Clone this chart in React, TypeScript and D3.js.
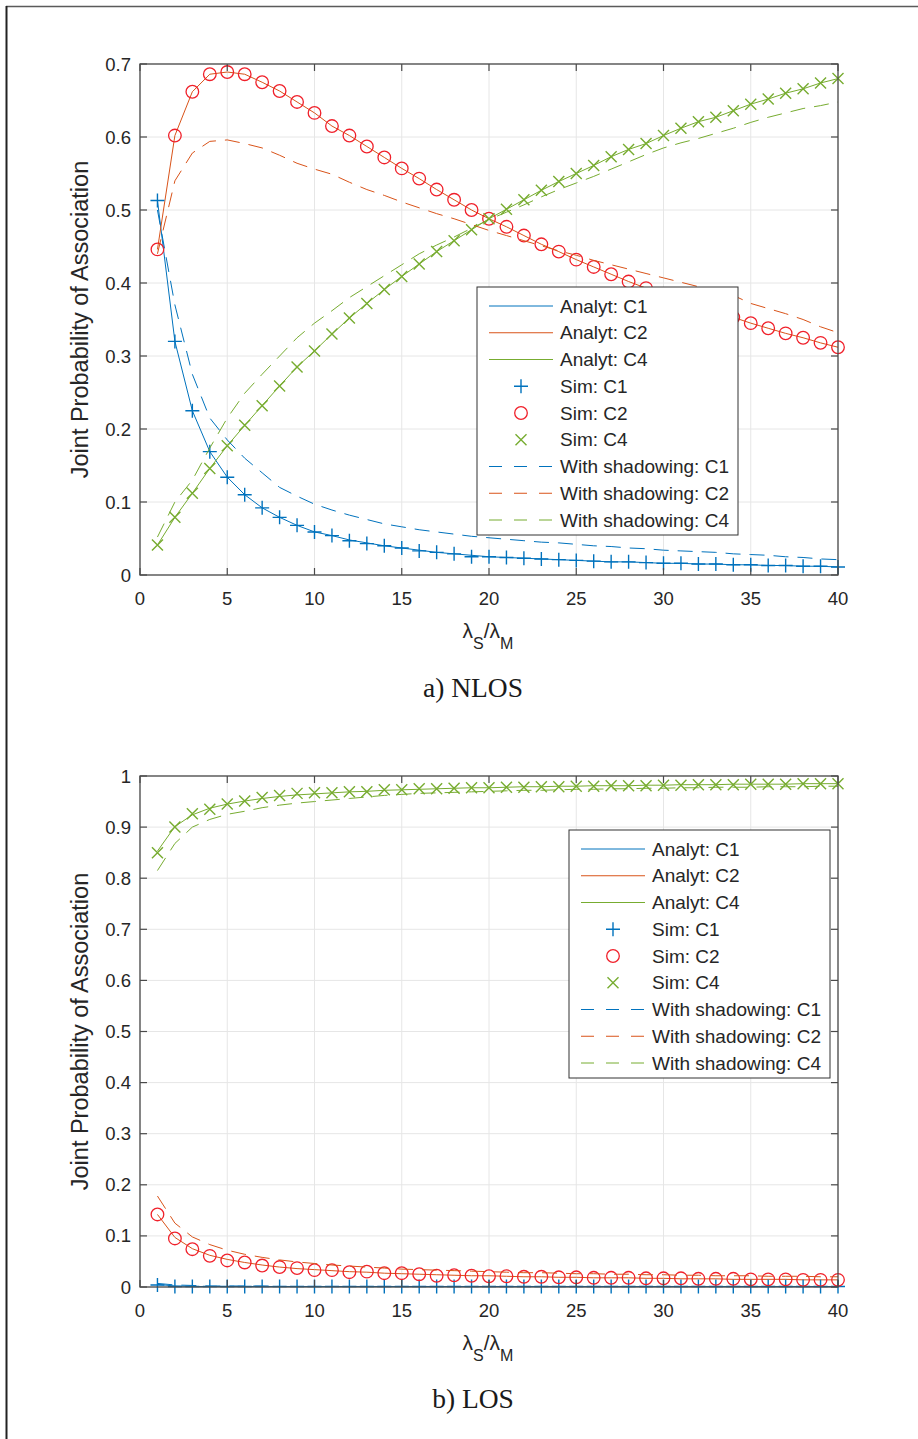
import React from "react";
import * as d3 from "d3";

// ---------- data ----------
const lambdaRatio = [1,2,3,4,5,6,7,8,9,10,11,12,13,14,15,16,17,18,19,20,21,22,23,24,25,26,27,28,29,30,31,32,33,34,35,36,37,38,39,40];
const xTicks = [0,5,10,15,20,25,30,35,40];
const nlosYTicks = [0,0.1,0.2,0.3,0.4,0.5,0.6,0.7];
const losYTicks = [0,0.1,0.2,0.3,0.4,0.5,0.6,0.7,0.8,0.9,1];

// NLOS
const nlosAnalytC1 = [0.513,0.320,0.225,0.169,0.134,0.110,0.092,0.079,0.068,0.059,0.054,0.048,0.044,0.040,0.037,0.034,0.031,0.029,0.027,0.025,0.024,0.023,0.022,0.021,0.020,0.019,0.018,0.018,0.017,0.016,0.016,0.015,0.015,0.014,0.014,0.013,0.013,0.012,0.012,0.011];
const nlosAnalytC2 = [0.446,0.602,0.662,0.686,0.689,0.686,0.675,0.663,0.648,0.633,0.615,0.602,0.587,0.572,0.557,0.543,0.528,0.514,0.500,0.488,0.477,0.465,0.453,0.443,0.432,0.422,0.412,0.402,0.393,0.385,0.377,0.369,0.361,0.353,0.345,0.338,0.331,0.325,0.318,0.312];
const nlosAnalytC4 = [0.041,0.079,0.112,0.146,0.177,0.205,0.232,0.259,0.285,0.307,0.330,0.352,0.372,0.391,0.409,0.426,0.443,0.458,0.473,0.488,0.501,0.514,0.527,0.539,0.550,0.561,0.573,0.583,0.591,0.602,0.612,0.621,0.627,0.636,0.645,0.652,0.660,0.666,0.674,0.680];
const nlosSimC1 = [0.513,0.320,0.225,0.169,0.134,0.110,0.092,0.079,0.068,0.059,0.054,0.047,0.043,0.040,0.037,0.033,0.031,0.029,0.025,0.025,0.024,0.023,0.022,0.021,0.020,0.019,0.018,0.018,0.017,0.016,0.016,0.015,0.015,0.014,0.014,0.013,0.013,0.012,0.012,0.011];
const nlosSimC2 = [0.446,0.602,0.662,0.686,0.689,0.686,0.675,0.663,0.648,0.633,0.615,0.602,0.587,0.572,0.557,0.543,0.528,0.514,0.500,0.488,0.477,0.465,0.453,0.443,0.432,0.422,0.412,0.402,0.393,0.385,0.377,0.369,0.361,0.353,0.345,0.338,0.331,0.325,0.318,0.312];
const nlosSimC4 = [0.041,0.079,0.112,0.146,0.177,0.205,0.232,0.259,0.285,0.307,0.330,0.352,0.372,0.391,0.409,0.426,0.443,0.458,0.473,0.488,0.501,0.514,0.527,0.539,0.550,0.561,0.573,0.583,0.591,0.602,0.612,0.621,0.627,0.636,0.645,0.652,0.660,0.666,0.674,0.680];
const nlosShadowC1 = [0.500,0.370,0.275,0.215,0.185,0.160,0.140,0.120,0.108,0.097,0.089,0.082,0.076,0.070,0.066,0.062,0.059,0.056,0.053,0.051,0.049,0.047,0.045,0.044,0.042,0.040,0.039,0.037,0.036,0.034,0.033,0.032,0.031,0.029,0.028,0.027,0.025,0.024,0.022,0.021];
const nlosShadowC2 = [0.440,0.540,0.578,0.594,0.596,0.591,0.585,0.575,0.564,0.556,0.549,0.538,0.528,0.520,0.511,0.503,0.495,0.488,0.480,0.472,0.465,0.458,0.451,0.444,0.438,0.431,0.425,0.419,0.413,0.407,0.401,0.395,0.389,0.383,0.372,0.365,0.358,0.350,0.340,0.332];
const nlosShadowC4 = [0.052,0.100,0.130,0.174,0.215,0.249,0.275,0.300,0.325,0.345,0.362,0.380,0.395,0.410,0.425,0.440,0.452,0.463,0.475,0.487,0.497,0.507,0.518,0.528,0.537,0.546,0.556,0.566,0.576,0.585,0.592,0.598,0.605,0.612,0.620,0.627,0.633,0.639,0.643,0.648];

// LOS
const losAnalytC1 = [0.005,0.002,0.001,0.001,0.001,0.001,0.001,0.001,0.001,0.001,0.001,0.001,0.001,0.001,0.001,0.001,0.001,0.001,0.001,0.001,0.001,0.001,0.001,0.001,0.001,0.001,0.001,0.001,0.001,0.001,0.001,0.001,0.001,0.001,0.001,0.001,0.001,0.001,0.001,0.001];
const losAnalytC2 = [0.142,0.097,0.075,0.062,0.054,0.048,0.043,0.039,0.036,0.034,0.032,0.030,0.029,0.027,0.026,0.025,0.024,0.023,0.022,0.022,0.021,0.020,0.020,0.019,0.019,0.018,0.018,0.018,0.017,0.017,0.016,0.016,0.016,0.015,0.015,0.015,0.015,0.014,0.014,0.014];
const losAnalytC4 = [0.853,0.901,0.924,0.937,0.945,0.951,0.956,0.960,0.963,0.965,0.967,0.969,0.970,0.972,0.973,0.974,0.975,0.976,0.977,0.977,0.978,0.979,0.979,0.980,0.980,0.981,0.981,0.981,0.982,0.982,0.983,0.983,0.983,0.984,0.984,0.984,0.984,0.985,0.985,0.985];
const losSimC1 = [0.004,0.001,0.001,0.001,0.001,0.001,0.001,0.001,0.001,0.001,0.001,0.001,0.001,0.001,0.001,0.001,0.001,0.001,0.001,0.001,0.001,0.001,0.001,0.001,0.001,0.001,0.001,0.001,0.001,0.001,0.001,0.001,0.001,0.001,0.001,0.001,0.001,0.001,0.001,0.001];
const losSimC2 = [0.142,0.095,0.074,0.061,0.052,0.048,0.042,0.039,0.037,0.033,0.033,0.029,0.030,0.027,0.027,0.025,0.022,0.023,0.022,0.021,0.021,0.020,0.020,0.019,0.019,0.018,0.018,0.018,0.017,0.017,0.017,0.016,0.016,0.016,0.015,0.015,0.015,0.014,0.014,0.014];
const losSimC4 = [0.850,0.900,0.926,0.935,0.945,0.951,0.958,0.962,0.966,0.967,0.967,0.969,0.969,0.973,0.973,0.975,0.975,0.976,0.977,0.977,0.978,0.978,0.979,0.979,0.980,0.980,0.981,0.981,0.981,0.982,0.982,0.983,0.983,0.983,0.984,0.984,0.984,0.985,0.985,0.985];
const losShadowC1 = [0.007,0.004,0.003,0.002,0.002,0.002,0.002,0.001,0.001,0.001,0.001,0.001,0.001,0.001,0.001,0.001,0.001,0.001,0.001,0.001,0.001,0.001,0.001,0.001,0.001,0.001,0.001,0.001,0.001,0.001,0.001,0.001,0.001,0.001,0.001,0.001,0.001,0.001,0.001,0.001];
const losShadowC2 = [0.178,0.125,0.098,0.083,0.072,0.064,0.058,0.053,0.049,0.046,0.043,0.041,0.039,0.037,0.035,0.034,0.033,0.032,0.031,0.030,0.029,0.028,0.028,0.027,0.026,0.026,0.025,0.025,0.024,0.024,0.023,0.023,0.022,0.022,0.022,0.021,0.021,0.021,0.020,0.020];
const losShadowC4 = [0.815,0.868,0.900,0.915,0.925,0.931,0.938,0.943,0.947,0.950,0.953,0.956,0.959,0.962,0.964,0.966,0.967,0.968,0.969,0.970,0.971,0.972,0.972,0.973,0.974,0.974,0.975,0.975,0.976,0.976,0.977,0.977,0.978,0.978,0.978,0.979,0.979,0.979,0.980,0.980];

const legendLabels = ["Analyt: C1","Analyt: C2","Analyt: C4","Sim: C1","Sim: C2","Sim: C4","With shadowing: C1","With shadowing: C2","With shadowing: C4"];

// ---------- style ----------
const BLUE = "#0072BD";
const ORANGE = "#D95319";
const GREEN = "#77AC30";
const RED = "#F0202A";
const AX = "#262626";
const FONT = "'Liberation Sans', Arial, Helvetica, sans-serif";
const DASH = "15 9";

type PanelProps = {
  top: number; bottom: number; yMax: number; yTicks: number[];
  analyt: number[][]; sim: number[][]; shadow: number[][];
  legendX: number; legendY: number; caption: string; captionY: number;
};

function Marker({ kind, x, y, color }: { kind: string; x: number; y: number; color: string }) {
  if (kind === "plus") {
    const s = 7;
    return <path d={`M${x - s},${y}H${x + s}M${x},${y - s}V${y + s}`} stroke={color} strokeWidth={1.4} fill="none" />;
  }
  if (kind === "circle") {
    return <circle cx={x} cy={y} r={6.3} stroke={color} strokeWidth={1.3} fill="none" />;
  }
  const s = 5.5;
  return <path d={`M${x - s},${y - s}L${x + s},${y + s}M${x - s},${y + s}L${x + s},${y - s}`} stroke={color} strokeWidth={1.4} fill="none" />;
}

function Panel(p: PanelProps) {
  const left = 140, right = 838;
  const x = d3.scaleLinear().domain([0, 40]).range([left, right]);
  const y = d3.scaleLinear().domain([0, p.yMax]).range([p.bottom, p.top]);
  const line = d3.line<number>().x((_, i) => x(lambdaRatio[i])).y((v) => y(v));
  const colors = [BLUE, ORANGE, GREEN];
  const simColors = [BLUE, RED, GREEN];
  const kinds = ["plus", "circle", "cross"];
  const tick = 7;
  const rowH = 26.75;
  const lw = 261, lh = 248;
  return (
    <g>
      {xTicks.map((t) => (
        <line key={"gx" + t} x1={x(t)} x2={x(t)} y1={p.top} y2={p.bottom} stroke="#e6e6e6" strokeWidth={1} />
      ))}
      {p.yTicks.map((t) => (
        <line key={"gy" + t} x1={left} x2={right} y1={y(t)} y2={y(t)} stroke="#e6e6e6" strokeWidth={1} />
      ))}
      {p.analyt.map((s, i) => (
        <path key={"a" + i} d={line(s) || ""} fill="none" stroke={colors[i]} strokeWidth={1} />
      ))}
      {p.sim.map((s, i) =>
        s.map((v, j) => <Marker key={"m" + i + "_" + j} kind={kinds[i]} x={x(lambdaRatio[j])} y={y(v)} color={simColors[i]} />)
      )}
      {p.shadow.map((s, i) => (
        <path key={"s" + i} d={line(s) || ""} fill="none" stroke={colors[i]} strokeWidth={1} strokeDasharray={DASH} />
      ))}
      <rect x={left} y={p.top} width={right - left} height={p.bottom - p.top} fill="none" stroke="#4a4a4a" strokeWidth={1.3} />
      {xTicks.map((t) => (
        <g key={"tx" + t}>
          <line x1={x(t)} x2={x(t)} y1={p.bottom} y2={p.bottom - tick} stroke="#4a4a4a" strokeWidth={1.2} />
          <line x1={x(t)} x2={x(t)} y1={p.top} y2={p.top + tick} stroke="#4a4a4a" strokeWidth={1.2} />
          <text x={x(t)} y={p.bottom + 29.5} textAnchor="middle" fontSize={18.5} fontFamily={FONT} fill={AX}>{t}</text>
        </g>
      ))}
      {p.yTicks.map((t) => (
        <g key={"ty" + t}>
          <line x1={left} x2={left + tick} y1={y(t)} y2={y(t)} stroke="#4a4a4a" strokeWidth={1.2} />
          <line x1={right} x2={right - tick} y1={y(t)} y2={y(t)} stroke="#4a4a4a" strokeWidth={1.2} />
          <text x={left - 9} y={y(t) + 6.5} textAnchor="end" fontSize={18.5} fontFamily={FONT} fill={AX}>{d3.format("")(t)}</text>
        </g>
      ))}
      <text transform={`translate(88,${(p.top + p.bottom) / 2}) rotate(-90)`} textAnchor="middle" fontSize={23.5} fontFamily={FONT} fill={AX}>
        Joint Probability of Association
      </text>
      <text x={(left + right) / 2 - 1} y={p.bottom + 63} textAnchor="middle" fontFamily={FONT} fill={AX} fontSize={21}>
        λ<tspan fontSize={16} dy={11}>S</tspan><tspan dy={-11}>/λ</tspan><tspan fontSize={16} dy={11}>M</tspan>
      </text>
      <g transform={`translate(${p.legendX},${p.legendY})`}>
        <rect x={0} y={0} width={lw} height={lh} fill="#ffffff" stroke="#333" strokeWidth={1} />
        {legendLabels.map((lab, i) => {
          const cy = 19 + i * rowH;
          const grp = Math.floor(i / 3);
          const c = i % 3;
          return (
            <g key={"lg" + i}>
              {grp === 0 && <line x1={12} x2={76} y1={cy} y2={cy} stroke={colors[c]} strokeWidth={1} />}
              {grp === 1 && <Marker kind={kinds[c]} x={44} y={cy} color={simColors[c]} />}
              {grp === 2 && <line x1={12} x2={76} y1={cy} y2={cy} stroke={colors[c]} strokeWidth={1} strokeDasharray="13 12" />}
              <text x={83} y={cy + 6.5} fontSize={19} fontFamily={FONT} fill={AX}>{lab}</text>
            </g>
          );
        })}
      </g>
      <text x={473} y={p.captionY} textAnchor="middle" fontSize={27.5} fontFamily="'Liberation Serif', 'Times New Roman', serif" fill="#1a1a1a">
        {p.caption}
      </text>
    </g>
  );
}

export default function App() {
  return (
    <svg width={918} height={1439} style={{ position: "absolute", left: 0, top: 0, background: "#fff" }}>
      <rect x={0} y={0} width={918} height={1439} fill="#fff" />
      <line x1={6} x2={918} y1={6.5} y2={6.5} stroke="#5a5a5a" strokeWidth={1.5} />
      <line x1={6.5} x2={6.5} y1={6} y2={1439} stroke="#222" strokeWidth={2} />
      <Panel
        top={64} bottom={575} yMax={0.7} yTicks={nlosYTicks}
        analyt={[nlosAnalytC1, nlosAnalytC2, nlosAnalytC4]}
        sim={[nlosSimC1, nlosSimC2, nlosSimC4]}
        shadow={[nlosShadowC1, nlosShadowC2, nlosShadowC4]}
        legendX={477} legendY={287} caption="a) NLOS" captionY={697}
      />
      <Panel
        top={776} bottom={1287} yMax={1} yTicks={losYTicks}
        analyt={[losAnalytC1, losAnalytC2, losAnalytC4]}
        sim={[losSimC1, losSimC2, losSimC4]}
        shadow={[losShadowC1, losShadowC2, losShadowC4]}
        legendX={569} legendY={830} caption="b) LOS" captionY={1408}
      />
    </svg>
  );
}
